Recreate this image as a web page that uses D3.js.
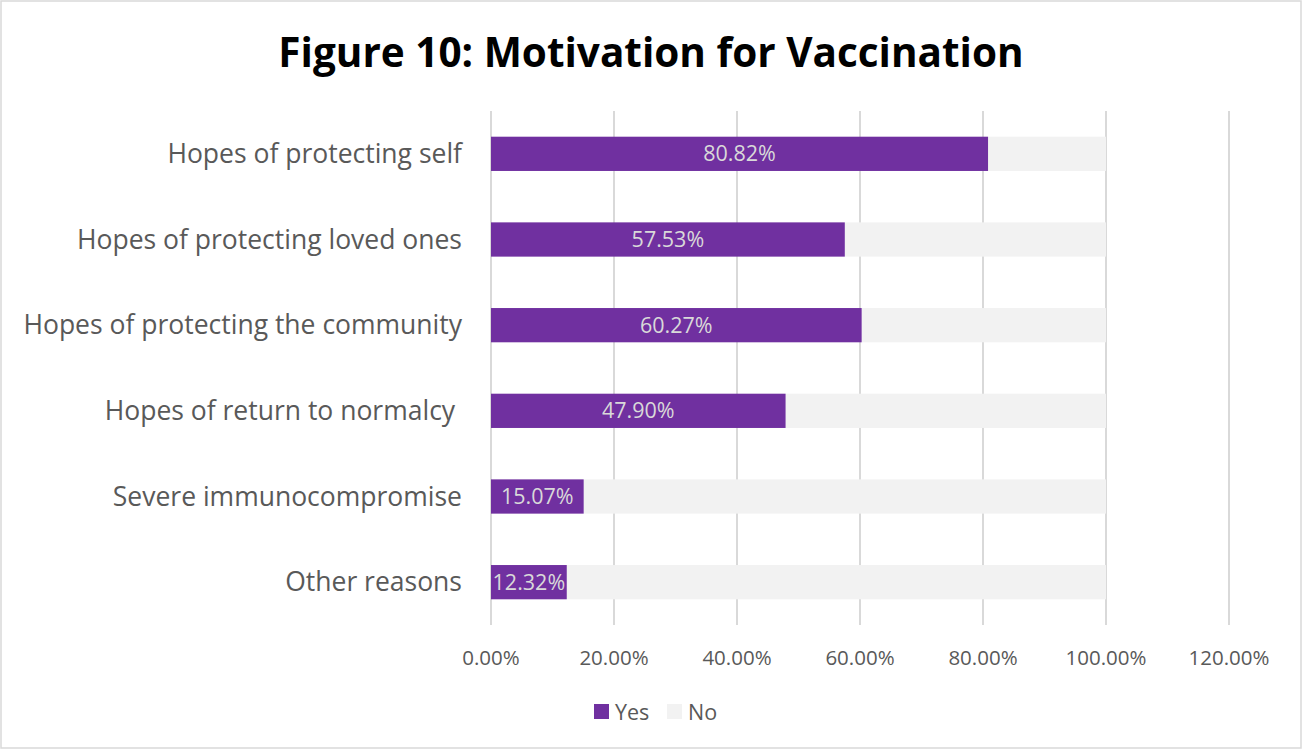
<!DOCTYPE html>
<html><head><meta charset="utf-8">
<script src="https://cdn.jsdelivr.net/npm/d3@7"></script>
<style>
body{margin:0;background:#fff;}
text{font-family:"Open Sans","Noto Sans",sans-serif;white-space:pre;}
</style></head>
<body><svg id="c" width="1303" height="750"></svg>
<script>
const categories = ["Hopes of protecting self","Hopes of protecting loved ones","Hopes of protecting the community","Hopes of return to normalcy ","Severe immunocompromise","Other reasons"];
const yesValues = [80.82,57.53,60.27,47.90,15.07,12.32];
const noValues = [19.18,42.47,39.73,52.10,84.93,87.68];
const tickValues = [0,20,40,60,80,100,120];
const seriesNames = ["Yes","No"];
const colors = ["#7030A0","#F2F2F2"];

const svg = d3.select("#c");
svg.append("rect").attr("x",1).attr("y",1).attr("width",1300).attr("height",747)
  .attr("fill","#fff").attr("stroke","#d9d9d9").attr("stroke-width",1.5);

svg.append("text").attr("x",651).attr("y",67).attr("text-anchor","middle")
  .attr("font-size",40.5).attr("font-weight","bold").attr("fill","#000")
  .text("Figure 10: Motivation for Vaccination");

const x = d3.scaleLinear().domain([0,120]).range([491,1229]);
const y = d3.scaleBand().domain(categories).range([111,625]).paddingInner(0.6).paddingOuter(0.3);

// gridlines
svg.append("g").selectAll("line").data(tickValues).join("line")
  .attr("x1",d=>x(d)).attr("x2",d=>x(d)).attr("y1",111).attr("y2",625)
  .attr("stroke","#d9d9d9").attr("stroke-width",2);

const stack = categories.map((c,i)=>({c,yes:yesValues[i],no:noValues[i]}));
const g = svg.append("g");
g.selectAll("rect.no").data(stack).join("rect")
  .attr("x",d=>x(d.yes)).attr("width",d=>x(d.yes+d.no)-x(d.yes))
  .attr("y",d=>y(d.c)).attr("height",y.bandwidth()).attr("fill",colors[1]);
g.selectAll("rect.yes").data(stack).join("rect")
  .attr("x",x(0)).attr("width",d=>x(d.yes)-x(0))
  .attr("y",d=>y(d.c)).attr("height",y.bandwidth()).attr("fill",colors[0]);
g.selectAll("text.lbl").data(stack).join("text")
  .attr("x",d=>(x(0)+x(d.yes))/2).attr("y",d=>y(d.c)+y.bandwidth()/2+7.5)
  .attr("text-anchor","middle").attr("font-size",21.5).attr("fill","#d9d9d9")
  .text(d=>d.yes.toFixed(2)+"%");

// category labels
svg.append("g").selectAll("text").data(categories).join("text")
  .attr("x",462).attr("y",d=>y(d)+y.bandwidth()/2+9)
  .attr("text-anchor","end").attr("font-size",26.5).attr("fill","#595959")
  .text(d=>d);

// tick labels
svg.append("g").selectAll("text").data(tickValues).join("text")
  .attr("x",d=>x(d)).attr("y",665).attr("text-anchor","middle")
  .attr("font-size",20.5).attr("fill","#595959").text(d=>d.toFixed(2)+"%");

// legend
const lg = svg.append("g");
const lx = [594,667];
seriesNames.forEach((n,i)=>{
  lg.append("rect").attr("x",lx[i]).attr("y",704).attr("width",15).attr("height",15).attr("fill",colors[i]);
  lg.append("text").attr("x",lx[i]+21).attr("y",720).attr("font-size",21.5).attr("fill","#595959").text(n);
});
</script></body></html>
